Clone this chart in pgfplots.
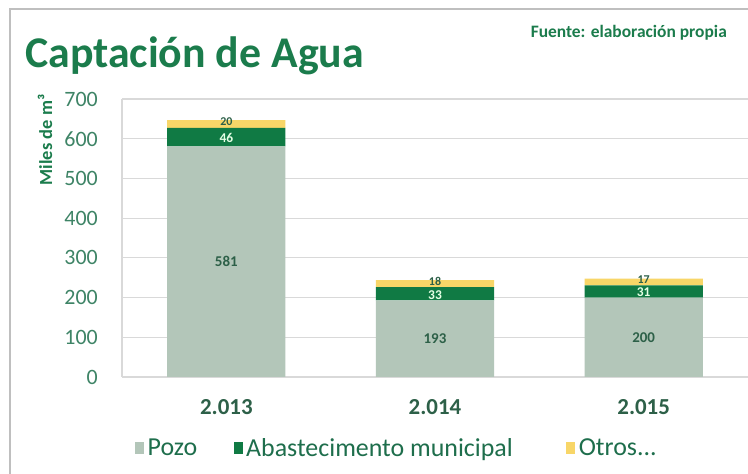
\documentclass[border=0pt]{standalone}
\usepackage{fontspec}
\setmainfont{Carlito}
\usepackage{pgfplots}
\usepackage{pgfplotstable}
\pgfplotsset{compat=1.18}
\definecolor{pozo}{RGB}{179,198,185}
\definecolor{abast}{RGB}{16,122,68}
\definecolor{otros}{RGB}{248,214,104}
\definecolor{titlegreen}{RGB}{27,124,76}
\definecolor{tickgreen}{RGB}{62,132,102}
\definecolor{catgreen}{RGB}{45,96,72}
\definecolor{leggreen}{RGB}{30,110,76}
\definecolor{gridgray}{RGB}{217,217,217}
\pgfplotstableread{
x pozo abast otros
0 581 46 20
1 193 33 18
2 200 31 17
}\datatable
\begin{document}
\begin{tikzpicture}
\useasboundingbox (0,0) rectangle (748bp,474bp);
\fill[white] (0,0) rectangle (748bp,474bp);
\draw[gray!50, line width=1.2bp] (10bp,0) -- (10bp,465bp) -- (748bp,465bp);
\node[anchor=base west, inner sep=0, font=\fontsize{44}{48}\selectfont\bfseries, text=titlegreen] at (25bp,406bp) {Captación de Agua};
\node[anchor=base east, inner sep=0, font=\fontsize{17.5}{20}\selectfont\bfseries, text=titlegreen] at (727bp,436bp) {Fuente: elaboración propia};
\node[rotate=90, inner sep=0, font=\fontsize{18.5}{22}\selectfont\bfseries, text=titlegreen] at (45bp,334bp) {Miles de m³};
\begin{axis}[
  at={(122bp,97bp)}, anchor=south west,
  scale only axis, width=626bp, height=278bp,
  ybar stacked, bar width=0.567,
  xmin=-0.5, xmax=2.5, ymin=0, ymax=700,
  ytick={0,100,...,700},
  xtick={0,1,2}, xticklabels={2.013,2.014,2.015},
  major tick length=0,
  axis line style={gridgray, line width=1.2bp},
  axis x line*=bottom, axis y line*=left,
  ymajorgrids, grid style={gridgray, line width=1.2bp},
  /pgf/number format/assume math mode=true,
  yticklabel style={font=\fontsize{22}{24}\selectfont, text=tickgreen, anchor=east, inner sep=0, xshift=-24bp},
  xticklabel style={font=\fontsize{23}{26}\selectfont\bfseries, text=catgreen, anchor=north, inner sep=0, yshift=-22bp},
  legend columns=3,
  legend style={at={(axis description cs:0.016,-0.255)}, anchor=west, draw=none, fill=none,
    font=\fontsize{26}{28}\selectfont, text=leggreen, nodes={inner xsep=3.5bp},
    /tikz/column 2/.style={column sep=33bp},
    /tikz/column 4/.style={column sep=50bp}},
  legend image code/.code={\fill[#1] (0bp,-6bp) rectangle (9bp,6bp);},
  nodes near coords={\pgfmathprintnumber[assume math mode=true]{\rawy}},
  every node near coord/.append style={anchor=center, inner sep=0},
]
\addplot[fill=pozo, draw=none, visualization depends on={\thisrow{pozo}\as\rawy}, every node near coord/.append style={font=\fontsize{15}{17}\selectfont\bfseries, text=catgreen}]
  table[x=x, y=pozo] {\datatable};
\addlegendentry{Pozo}
\addplot[fill=abast, draw=none, visualization depends on={\thisrow{abast}\as\rawy}, every node near coord/.append style={font=\fontsize{13.5}{15}\selectfont\bfseries, text=white!90!green, yshift=-1bp}]
  table[x=x, y=abast] {\datatable};
\addlegendentry{Abastecimento municipal}
\addplot[fill=otros, draw=none, visualization depends on={\thisrow{otros}\as\rawy}, every node near coord/.append style={font=\fontsize{12}{13}\selectfont\bfseries, text=catgreen, yshift=2.5bp}]
  table[x=x, y=otros] {\datatable};
\addlegendentry{Otros{.}{.}{.}}
\end{axis}
\end{tikzpicture}
\end{document}
